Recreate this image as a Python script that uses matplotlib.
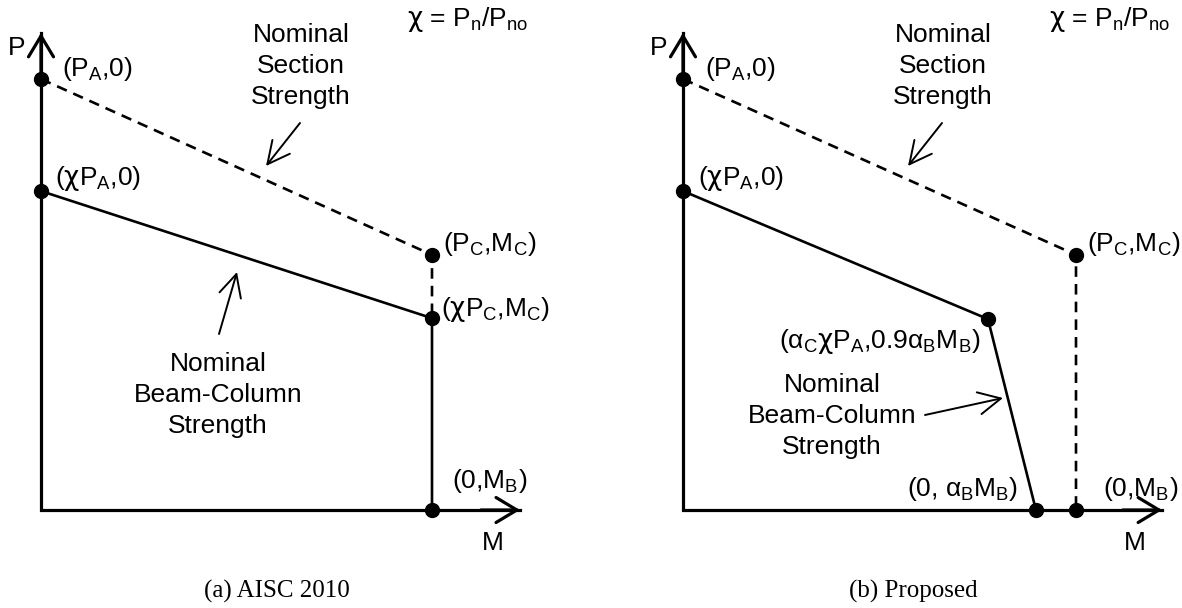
import matplotlib
matplotlib.use('Agg')
import matplotlib.pyplot as plt

plt.rcParams['font.family'] = ['Liberation Sans', 'DejaVu Sans']
plt.rcParams['mathtext.fontset'] = 'custom'
plt.rcParams['mathtext.rm'] = 'Liberation Sans'
plt.rcParams['mathtext.it'] = 'Liberation Sans:italic'
plt.rcParams['mathtext.bf'] = 'Liberation Sans:bold'
plt.rcParams['mathtext.sf'] = 'DejaVu Sans'

CHI = r'$\mathsf{χ}$'

# Значення нормовані: M / M_B, P / P_A
# (a) AISC 2010
a_section_M = [0.0, 1.0, 1.0]
a_section_P = [1.0, 0.592, 0.445]
a_bc_M = [0.0, 1.0, 1.0]
a_bc_P = [0.74, 0.445, 0.0]
a_dots_M = [0.0, 0.0, 1.0, 1.0, 1.0]
a_dots_P = [1.0, 0.74, 0.592, 0.445, 0.0]
a_dot_labels = [r'(P$_\mathrm{A}$,0)', '(' + CHI + r'P$_\mathrm{A}$,0)', r'(P$_\mathrm{C}$,M$_\mathrm{C}$)',
                '(' + CHI + r'P$_\mathrm{C}$,M$_\mathrm{C}$)', r'(0,M$_\mathrm{B}$)']
a_axis_end = (1.225, 1.107)

# (b) Proposed
b_section_M = [0.0, 1.0, 1.0]
b_section_P = [1.0, 0.592, 0.0]
b_bc_M = [0.0, 0.776, 0.898]
b_bc_P = [0.74, 0.443, 0.0]
b_dots_M = [0.0, 0.0, 1.0, 0.776, 0.898, 1.0]
b_dots_P = [1.0, 0.74, 0.592, 0.443, 0.0, 0.0]
b_dot_labels = [r'(P$_\mathrm{A}$,0)', '(' + CHI + r'P$_\mathrm{A}$,0)', r'(P$_\mathrm{C}$,M$_\mathrm{C}$)',
                r'(α$_\mathrm{C}$' + CHI + r'P$_\mathrm{A}$,0.9α$_\mathrm{B}$M$_\mathrm{B}$)',
                r'(0, α$_\mathrm{B}$M$_\mathrm{B}$)', r'(0,M$_\mathrm{B}$)']
b_axis_end = (1.219, 1.107)

captions = ['(a) AISC 2010', '(b) Proposed']

W, H = 1182, 608
OY = 510      # вісь M (пікселі від верху)
SY = 431      # масштаб P
FS = 19

fig = plt.figure(figsize=(W / 100, H / 100), dpi=100)


def setup(ax, x0, x1, ox, sx):
    """Прив'язка осей до пікселів"""
    ax.set_position([x0 / W, 0, (x1 - x0) / W, 1])
    ax.set_xlim((x0 - ox) / sx, (x1 - ox) / sx)
    ax.set_ylim((OY - H) / SY, OY / SY)
    ax.axis('off')


def at(ox, dx, dy):
    return (ox + dx, H - OY + dy)


def draw_panel(ax, ox, sec_M, sec_P, bc_M, bc_P, dots_M, dots_P, labels, offsets, axis_end,
               bc_text_pos, bc_arrow, caption, cap_x):
    m_end, p_end = axis_end
    # осі
    ax.plot([0, 0, m_end], [p_end, 0, 0], color='k', lw=2.3, solid_joinstyle='miter', clip_on=False)
    arrow = dict(arrowstyle='->,head_length=0.75,head_width=0.45', lw=2.3, color='k',
                 shrinkA=0, shrinkB=0, mutation_scale=20)
    ax.annotate('', xy=(0, p_end), xytext=(0, p_end - 0.1), arrowprops=arrow)
    ax.annotate('', xy=(m_end, 0), xytext=(m_end - 0.1, 0), arrowprops=arrow)

    ax.plot(sec_M, sec_P, color='k', lw=1.9, dashes=(4, 2.7), clip_on=False)
    ax.plot(bc_M, bc_P, color='k', lw=1.9, clip_on=False)
    ax.plot(dots_M, dots_P, 'o', color='k', ms=10, zorder=5, clip_on=False)

    for m, p, lab, (dx, dy, ha) in zip(dots_M, dots_P, labels, offsets):
        ax.annotate(lab, xy=(m, p), xytext=(dx, dy), textcoords='offset pixels',
                    ha=ha, va='center', fontsize=FS)

    ax.annotate('P', xy=at(ox, -24, 462), xycoords='figure pixels', ha='center', va='center', fontsize=FS)
    ax.annotate('M', xy=at(ox, 452, -33), xycoords='figure pixels', ha='center', va='center', fontsize=FS)
    ax.annotate(CHI + r' = P$_\mathrm{n}$/P$_\mathrm{no}$', xy=at(ox, 366, 490), xycoords='figure pixels',
                ha='left', va='center', fontsize=FS)

    small = dict(arrowstyle='->,head_length=0.8,head_width=0.4', lw=1.4, color='k',
                 shrinkA=0, shrinkB=0, mutation_scale=20)
    ax.annotate('Nominal\nSection\nStrength', xy=at(ox, 260, 444), xycoords='figure pixels',
                ha='center', va='center', fontsize=FS, linespacing=1.38)
    ax.annotate('', xy=at(ox, 225, 344), xytext=at(ox, 259, 387), xycoords='figure pixels',
                arrowprops=small)

    ax.annotate('Nominal\nBeam-Column\nStrength', xy=at(ox, *bc_text_pos), xycoords='figure pixels',
                ha='center', va='center', fontsize=FS, linespacing=1.38)
    tail, tip = bc_arrow
    ax.annotate('', xy=at(ox, *tip), xytext=at(ox, *tail), xycoords='figure pixels', arrowprops=small)

    ax.annotate(caption, xy=(cap_x, H - 591), xycoords='figure pixels', ha='center', va='center',
                fontsize=18, family='Liberation Serif')


ax_a = fig.add_axes([0, 0, 0.5, 1])
setup(ax_a, 0, 591, 41, 391)
draw_panel(ax_a, 41, a_section_M, a_section_P, a_bc_M, a_bc_P, a_dots_M, a_dots_P, a_dot_labels,
           [(21, 10, 'left'), (14, 13, 'left'), (11, 11, 'left'), (9, 9, 'left'), (20, 29, 'left')],
           a_axis_end, (177, 115), ((178, 176), (196, 238)), captions[0], 277)

ax_b = fig.add_axes([0.5, 0, 0.5, 1])
setup(ax_b, 591, 1182, 683, 393)
draw_panel(ax_b, 683, b_section_M, b_section_P, b_bc_M, b_bc_P, b_dots_M, b_dots_P, b_dot_labels,
           [(22, 10, 'left'), (15, 13, 'left'), (11, 11, 'left'), (-8, -22, 'right'),
            (-18, 21, 'right'), (27, 21, 'left')],
           b_axis_end, (149, 94), ((242, 95), (320, 112)), captions[1], 913)

fig.savefig('out.png', dpi=100)
